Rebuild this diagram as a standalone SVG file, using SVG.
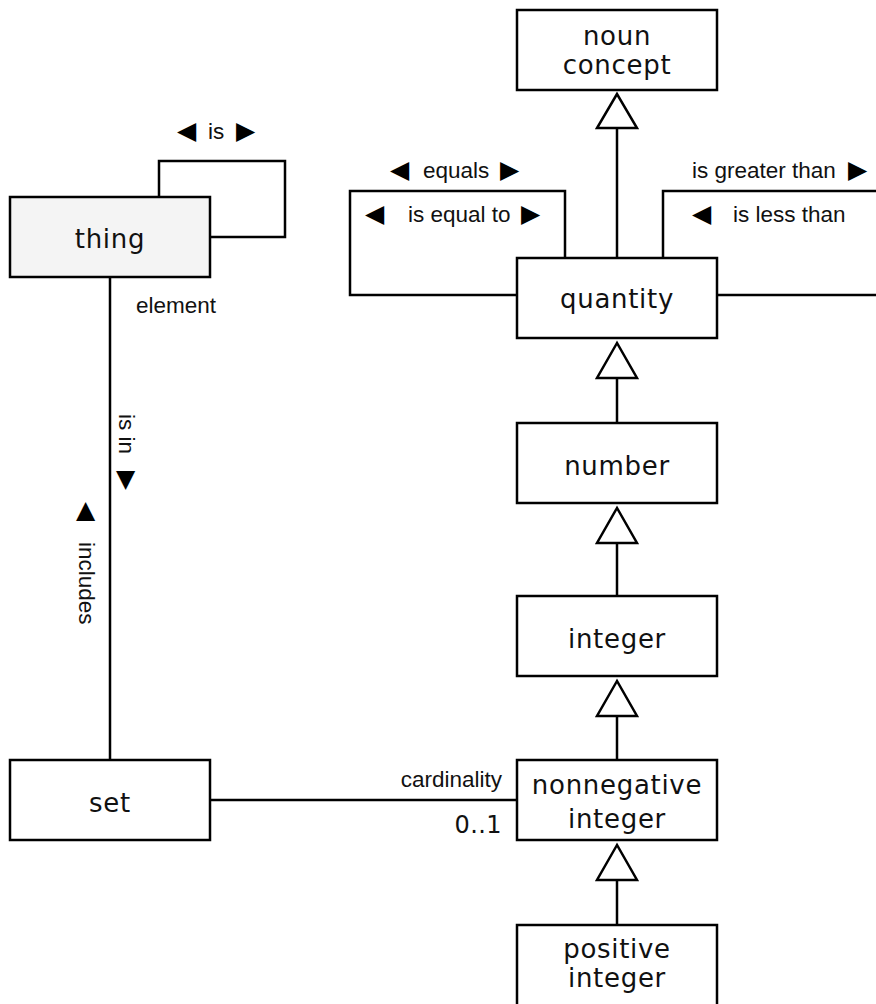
<svg xmlns="http://www.w3.org/2000/svg" width="876" height="1004" viewBox="0 0 876 1004">
<style>
.box{fill:#fff;stroke:#000;stroke-width:2.5}
.grey{fill:#f4f4f4}
.ln{fill:none;stroke:#000;stroke-width:2.5}
.tri{fill:#fff;stroke:#000;stroke-width:2.5;stroke-linejoin:miter}
.nt{font-family:"DejaVu Sans","Verdana",sans-serif;font-size:26px;letter-spacing:0.7px;fill:#111;text-anchor:middle}
.lb{font-family:"Liberation Sans","Arial","DejaVu Sans",sans-serif;font-size:22.5px;fill:#111}
.sym{font-family:"DejaVu Sans",sans-serif;font-size:25px;fill:#000}
</style>
<rect width="876" height="1004" fill="#fff"/>
<g id="connectors">
  <polyline class="ln" points="159,197 159,161 285,161 285,237 210,237"/>
  <line class="ln" x1="110" y1="277" x2="110" y2="760"/>
  <line class="ln" x1="210" y1="800" x2="517" y2="800"/>
  <polyline class="ln" points="517,295 350,295 350,191 565,191 565,258"/>
  <polyline class="ln" points="663,258 663,191 880,191"/>
  <line class="ln" x1="717" y1="295" x2="880" y2="295"/>
  <line class="ln" x1="617" y1="128" x2="617" y2="258"/>
  <polygon class="tri" points="617,94 597,128 637,128"/>
  <line class="ln" x1="617" y1="378" x2="617" y2="423"/>
  <polygon class="tri" points="617,343 597,378 637,378"/>
  <line class="ln" x1="617" y1="543" x2="617" y2="596"/>
  <polygon class="tri" points="617,508 597,543 637,543"/>
  <line class="ln" x1="617" y1="716" x2="617" y2="760"/>
  <polygon class="tri" points="617,681 597,716 637,716"/>
  <line class="ln" x1="617" y1="880" x2="617" y2="925"/>
  <polygon class="tri" points="617,845 597,880 637,880"/>
</g>
<g id="labels">
  <text class="lb" y="139"><tspan class="sym" x="177">◀</tspan> <tspan x="208">is</tspan> <tspan class="sym" x="236">▶</tspan></text>
  <text class="lb" x="136" y="313">element</text>
  <text class="lb" transform="translate(119,414) rotate(90)">is in</text>
  <text class="sym" x="116" y="487">▼</text>
  <text class="sym" x="76" y="518">▲</text>
  <text class="lb" transform="translate(79,542) rotate(90)">includes</text>
  <text class="lb" y="178"><tspan class="sym" x="390">◀</tspan> <tspan x="423">equals</tspan> <tspan class="sym" x="500">▶</tspan></text>
  <text class="lb" y="222"><tspan class="sym" x="365">◀</tspan> <tspan x="408">is equal to</tspan> <tspan class="sym" x="521">▶</tspan></text>
  <text class="lb" y="178"><tspan x="692">is greater than</tspan> <tspan class="sym" x="848">▶</tspan></text>
  <text class="lb" y="222"><tspan class="sym" x="692">◀</tspan> <tspan x="733">is less than</tspan></text>
  <text class="lb" x="502" y="787" text-anchor="end">cardinality</text>
  <text class="nt" x="502" y="833" style="font-size:24px;letter-spacing:0.4px;text-anchor:end">0..1</text>
</g>
<g id="noun-concept">
  <rect class="box" x="517" y="10" width="200" height="80"/>
  <text class="nt" x="617" y="45">noun</text>
  <text class="nt" x="617" y="74">concept</text>
</g>
<g id="thing">
  <rect class="box grey" x="10" y="197" width="200" height="80"/>
  <text class="nt" x="110" y="248">thing</text>
</g>
<g id="quantity">
  <rect class="box" x="517" y="258" width="200" height="80"/>
  <text class="nt" x="617" y="308">quantity</text>
</g>
<g id="number">
  <rect class="box" x="517" y="423" width="200" height="80"/>
  <text class="nt" x="617" y="475">number</text>
</g>
<g id="integer">
  <rect class="box" x="517" y="596" width="200" height="80"/>
  <text class="nt" x="617" y="648">integer</text>
</g>
<g id="set">
  <rect class="box" x="10" y="760" width="200" height="80"/>
  <text class="nt" x="110" y="812">set</text>
</g>
<g id="nonnegative-integer">
  <rect class="box" x="517" y="760" width="200" height="80"/>
  <text class="nt" x="617" y="794">nonnegative</text>
  <text class="nt" x="617" y="828">integer</text>
</g>
<g id="positive-integer">
  <rect class="box" x="517" y="925" width="200" height="90"/>
  <text class="nt" x="617" y="958">positive</text>
  <text class="nt" x="617" y="987">integer</text>
</g>
</svg>
